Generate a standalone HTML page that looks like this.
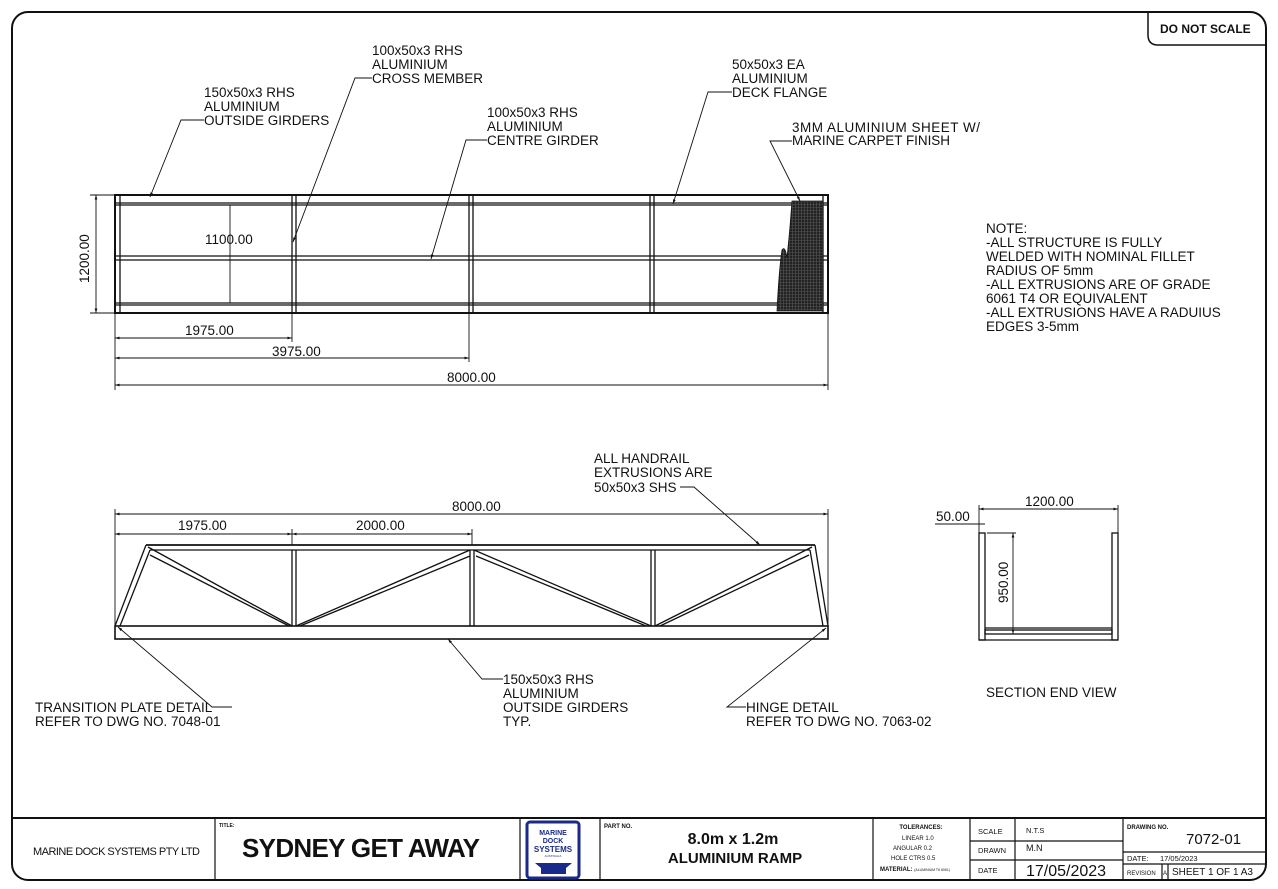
<!DOCTYPE html>
<html><head><meta charset="utf-8"><style>
html,body{margin:0;padding:0;background:#fff}
svg{display:block}
text{font-family:"Liberation Sans",sans-serif;fill:#111}
</style></head><body>
<svg width="1278" height="889" viewBox="0 0 1278 889" xmlns="http://www.w3.org/2000/svg">
<defs>
<pattern id="h" width="3" height="3" patternUnits="userSpaceOnUse"><rect width="3" height="3" fill="#222"/><path d="M0 0.5H3M0.5 0V3" stroke="#555" stroke-width="0.6"/></pattern>
<marker id="a" viewBox="0 0 10 10" refX="10" refY="5" markerWidth="7" markerHeight="5" orient="auto-start-reverse"><path d="M0 2L10 5L0 8z" fill="#111"/></marker>
</defs>
<g fill="none" stroke="#111">
<rect x="12" y="12" width="1254" height="868" rx="16" stroke-width="2"/>
<path d="M1148 12V35Q1148 45 1158 45H1266" stroke-width="1.5"/>
<line x1="12" y1="818" x2="1266" y2="818" stroke-width="2"/>
<g stroke-width="1.2">
<line x1="215" y1="818" x2="215" y2="880"/>
<line x1="520" y1="818" x2="520" y2="880"/>
<line x1="600" y1="818" x2="600" y2="880"/>
<line x1="873" y1="818" x2="873" y2="880"/>
<line x1="970" y1="818" x2="970" y2="880"/>
<line x1="1015" y1="818" x2="1015" y2="880"/>
<line x1="1123" y1="818" x2="1123" y2="880"/>
<line x1="970" y1="841" x2="1123" y2="841"/>
<line x1="970" y1="860" x2="1123" y2="860"/>
<line x1="1123" y1="852" x2="1266" y2="852"/>
<line x1="1123" y1="864" x2="1266" y2="864"/>
<line x1="1162" y1="864" x2="1162" y2="880"/>
<line x1="1168" y1="864" x2="1168" y2="880"/>
</g>
<g stroke-width="1.3">
<rect x="115" y="195" width="713" height="118" stroke-width="2"/>
<line x1="115" y1="203" x2="828" y2="203"/><line x1="115" y1="205" x2="828" y2="205"/>
<line x1="115" y1="303" x2="828" y2="303"/><line x1="115" y1="305" x2="828" y2="305"/>
<line x1="115" y1="256" x2="828" y2="256"/><line x1="115" y1="260" x2="828" y2="260"/>
<line x1="120" y1="195" x2="120" y2="313"/>
<line x1="292" y1="195" x2="292" y2="313"/><line x1="296" y1="195" x2="296" y2="313"/>
<line x1="469" y1="195" x2="469" y2="313"/><line x1="473" y1="195" x2="473" y2="313"/>
<line x1="650" y1="195" x2="650" y2="313"/><line x1="654" y1="195" x2="654" y2="313"/>
<line x1="823" y1="195" x2="823" y2="313"/>
</g>
<path d="M792 201H823V311H777Q779 270 782 250Q785 245 787 258Q790 230 792 201z" fill="url(#h)" stroke="#111" stroke-width="0.8"/>
<g stroke-width="0.9">
<line x1="230" y1="205" x2="230" y2="303"/>
<line x1="90" y1="195" x2="115" y2="195"/><line x1="90" y1="313" x2="115" y2="313"/>
<line x1="96" y1="195" x2="96" y2="313" marker-start="url(#a)" marker-end="url(#a)"/>
<line x1="115" y1="313" x2="115" y2="390"/>
<line x1="292" y1="313" x2="292" y2="342"/>
<line x1="469" y1="313" x2="469" y2="362"/>
<line x1="828" y1="313" x2="828" y2="390"/>
<line x1="115" y1="338" x2="292" y2="338" marker-start="url(#a)" marker-end="url(#a)"/>
<line x1="115" y1="358" x2="469" y2="358" marker-start="url(#a)" marker-end="url(#a)"/>
<line x1="115" y1="385" x2="828" y2="385" marker-start="url(#a)" marker-end="url(#a)"/>
</g>
<g stroke-width="0.9">
<polyline points="204,120 181,120 150,197" marker-end="url(#a)"/>
<polyline points="372,78 355,78 293,242" marker-end="url(#a)"/>
<polyline points="487,140 466,140 431,259" marker-end="url(#a)"/>
<polyline points="732,92 708,92 673,204" marker-end="url(#a)"/>
<polyline points="792,141 770,141 800,201" marker-end="url(#a)"/>
</g>
<g stroke-width="1.3">
<rect x="115" y="626" width="713" height="13" stroke-width="1.6"/>
<line x1="146" y1="545" x2="815" y2="545" stroke-width="1.8"/>
<line x1="150" y1="550" x2="810" y2="550"/>
<line x1="115" y1="626" x2="146" y2="545"/><line x1="120" y1="626" x2="150" y2="550"/>
<line x1="828" y1="626" x2="815" y2="545"/><line x1="823" y1="626" x2="810" y2="550"/>
<line x1="292" y1="550" x2="292" y2="626"/><line x1="296" y1="550" x2="296" y2="626"/>
<line x1="470" y1="550" x2="470" y2="626"/><line x1="474" y1="550" x2="474" y2="626"/>
<line x1="651" y1="550" x2="651" y2="626"/><line x1="655" y1="550" x2="655" y2="626"/>
<line x1="148" y1="547" x2="292" y2="626"/><line x1="150" y1="555" x2="289" y2="626"/>
<line x1="296" y1="626" x2="470" y2="550"/><line x1="300" y1="626" x2="470" y2="556"/>
<line x1="474" y1="550" x2="651" y2="626"/><line x1="476" y1="556" x2="646" y2="626"/>
<line x1="655" y1="626" x2="812" y2="547"/><line x1="660" y1="626" x2="809" y2="555"/>
</g>
<g stroke-width="0.9">
<line x1="115" y1="509" x2="115" y2="626"/>
<line x1="828" y1="509" x2="828" y2="626"/>
<line x1="292" y1="529" x2="292" y2="545"/>
<line x1="472" y1="529" x2="472" y2="545"/>
<line x1="115" y1="514" x2="828" y2="514" marker-start="url(#a)" marker-end="url(#a)"/>
<line x1="115" y1="534" x2="292" y2="534" marker-start="url(#a)" marker-end="url(#a)"/>
<line x1="292" y1="534" x2="472" y2="534" marker-start="url(#a)" marker-end="url(#a)"/>
</g>
<g stroke-width="0.9">
<polyline points="680,487 694,487 760,545" marker-end="url(#a)"/>
<polyline points="232,707 212,707 118,627" marker-end="url(#a)"/>
<polyline points="503,679 482,679 448,639" marker-end="url(#a)"/>
<polyline points="746,707 727,707 826,628" marker-end="url(#a)"/>
</g>
<g stroke-width="1.3">
<rect x="979" y="533" width="6" height="107"/>
<rect x="1112" y="533" width="6" height="107"/>
<line x1="979" y1="640" x2="1118" y2="640"/>
<line x1="985" y1="628" x2="1112" y2="628"/>
<rect x="985" y="630" width="127" height="4"/>
</g>
<g stroke-width="0.9">
<line x1="979" y1="505" x2="979" y2="533"/><line x1="1118" y1="505" x2="1118" y2="533"/>
<line x1="979" y1="509" x2="1118" y2="509" marker-start="url(#a)" marker-end="url(#a)"/>
<line x1="935" y1="524" x2="985" y2="524"/>
<line x1="987" y1="533" x2="1016" y2="533"/>
<line x1="1013" y1="533" x2="1013" y2="634" marker-start="url(#a)" marker-end="url(#a)"/>
</g>
<rect x="527" y="822" width="52" height="56" rx="3" fill="#fff" stroke="#1a2a8a" stroke-width="3"/>
<path d="M535 863H572L566 868L566 874H541L541 868Z" fill="#1a2a8a" stroke="none"/>
</g>
<g font-size="13.5">
<text x="204" y="97">150x50x3 RHS</text><text x="204" y="111">ALUMINIUM</text><text x="204" y="125">OUTSIDE GIRDERS</text>
<text x="372" y="55">100x50x3 RHS</text><text x="372" y="69">ALUMINIUM</text><text x="372" y="83">CROSS MEMBER</text>
<text x="487" y="117">100x50x3 RHS</text><text x="487" y="131">ALUMINIUM</text><text x="487" y="145">CENTRE GIRDER</text>
<text x="732" y="69">50x50x3 EA</text><text x="732" y="83">ALUMINIUM</text><text x="732" y="97">DECK FLANGE</text>
<text x="792" y="132" textLength="188">3MM ALUMINIUM SHEET W/</text><text x="792" y="145" textLength="158">MARINE CARPET FINISH</text>
<text x="986" y="233">NOTE:</text><text x="986" y="247">-ALL STRUCTURE IS FULLY</text><text x="986" y="261">WELDED WITH NOMINAL FILLET</text><text x="986" y="275">RADIUS OF 5mm</text><text x="986" y="289">-ALL EXTRUSIONS ARE OF GRADE</text><text x="986" y="303">6061 T4 OR EQUIVALENT</text><text x="986" y="317">-ALL EXTRUSIONS HAVE A RADUIUS</text><text x="986" y="331">EDGES 3-5mm</text>
<text x="205" y="244">1100.00</text>
<text x="185" y="335">1975.00</text>
<text x="272" y="356">3975.00</text>
<text x="447" y="382">8000.00</text>
<text transform="translate(89,283) rotate(-90)">1200.00</text>
<text x="594" y="463">ALL HANDRAIL</text><text x="594" y="477">EXTRUSIONS ARE</text><text x="594" y="492">50x50x3 SHS</text>
<text x="452" y="511">8000.00</text>
<text x="178" y="530">1975.00</text><text x="356" y="530">2000.00</text>
<text x="35" y="712">TRANSITION PLATE DETAIL</text><text x="35" y="726">REFER TO DWG NO. 7048-01</text>
<text x="503" y="684">150x50x3 RHS</text><text x="503" y="698">ALUMINIUM</text><text x="503" y="712">OUTSIDE GIRDERS</text><text x="503" y="726">TYP.</text>
<text x="746" y="712">HINGE DETAIL</text><text x="746" y="726">REFER TO DWG NO. 7063-02</text>
<text x="1025" y="506">1200.00</text>
<text x="936" y="521">50.00</text>
<text transform="translate(1008,603) rotate(-90)">950.00</text>
<text x="986" y="697">SECTION END VIEW</text>
</g>
<text x="1160" y="33" font-size="12" font-weight="bold">DO NOT SCALE</text>
<text x="33" y="855" font-size="11" textLength="167">MARINE DOCK SYSTEMS PTY LTD</text>
<text x="219" y="827" font-size="5" font-weight="bold">TITLE:</text>
<text x="242" y="857" font-size="26" font-weight="bold" textLength="238">SYDNEY GET AWAY</text>
<text x="553" y="835" font-size="7" font-weight="bold" text-anchor="middle" style="fill:#1a2a8a">MARINE</text>
<text x="553" y="843" font-size="7" font-weight="bold" text-anchor="middle" style="fill:#1a2a8a">DOCK</text>
<text x="553" y="852" font-size="8" font-weight="bold" text-anchor="middle" style="fill:#1a2a8a">SYSTEMS</text>
<text x="553" y="857" font-size="3" text-anchor="middle" style="fill:#1a2a8a">AUSTRALIA</text>
<text x="604" y="828" font-size="6" font-weight="bold">PART NO.</text>
<text x="733" y="844" font-size="16" font-weight="bold" text-anchor="middle">8.0m x 1.2m</text>
<text x="735" y="863" font-size="15" font-weight="bold" text-anchor="middle">ALUMINIUM RAMP</text>
<g font-size="6">
<text x="921" y="829" text-anchor="middle" font-weight="bold">TOLERANCES:</text>
<text x="902" y="840">LINEAR  1.0</text>
<text x="893" y="850">ANGULAR  0.2</text>
<text x="891" y="860">HOLE CTRS  0.5</text>
<text x="880" y="871" font-weight="bold">MATERIAL: <tspan font-size="3.5" font-weight="normal">(ALUMINIUM T6 6061)</tspan></text>
</g>
<g font-size="7.5">
<text x="978" y="834">SCALE</text><text x="978" y="853">DRAWN</text><text x="978" y="873">DATE</text>
<text x="1026" y="833">N.T.S</text><text x="1026" y="851" font-size="9">M.N</text>
<text x="1127" y="829" font-size="6" font-weight="bold">DRAWING NO.</text>
<text x="1127" y="861">DATE:</text><text x="1160" y="861">17/05/2023</text>
<text x="1127" y="875" font-size="6">REVISION</text><text x="1163" y="875" font-size="6">A</text>
<text x="1172" y="875" font-size="10">SHEET 1 OF 1 A3</text>
</g>
<text x="1026" y="876" font-size="16">17/05/2023</text>
<text x="1186" y="844" font-size="15">7072-01</text>
</svg>
</body></html>
